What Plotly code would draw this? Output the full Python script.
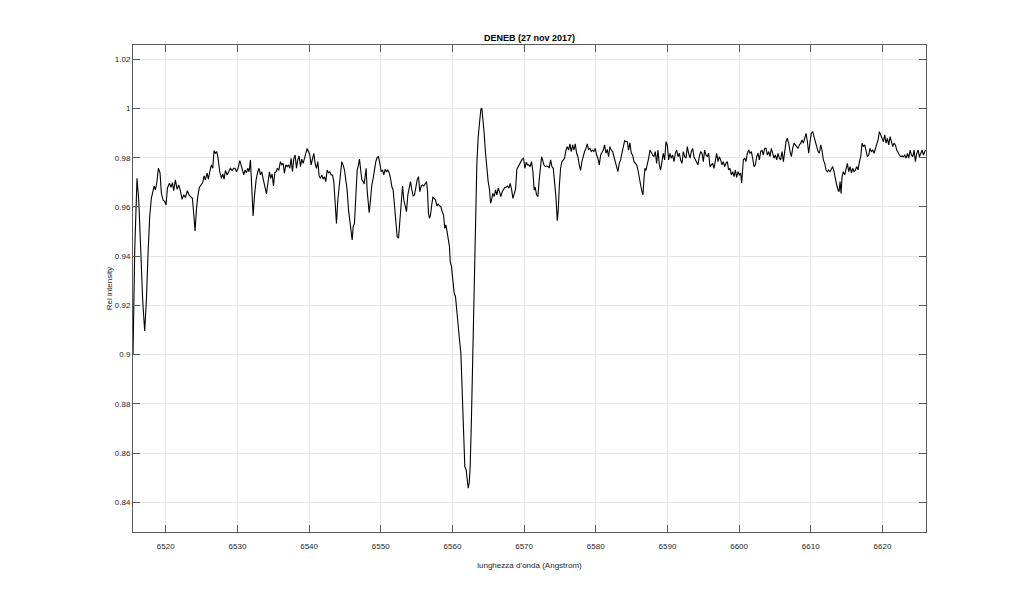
import plotly.graph_objects as go

wavelength = [
6515.43,6515.67,6515.99,6516.23,6516.51,6516.78,6517.06,6517.30,6517.53,6517.76,6517.99,6518.23,6518.37,6518.55,6518.74,6518.97,6519.20,6519.39,6519.62,6519.85,
6520.04,6520.23,6520.51,6520.74,6520.93,6521.11,6521.34,6521.58,6521.81,6522.04,6522.28,6522.51,6522.74,6523.02,6523.25,6523.48,6523.72,6523.90,6524.09,6524.28,
6524.46,6524.70,6524.93,6525.16,6525.35,6525.53,6525.77,6525.95,6526.18,6526.37,6526.56,6526.74,6526.93,6527.11,6527.30,6527.53,6527.77,6527.95,6528.14,6528.33,
6528.56,6528.79,6529.02,6529.25,6529.49,
6529.67,6529.86,6530.09,6530.33,6530.51,6530.70,6530.88,6531.07,6531.26,6531.44,6531.63,6531.82,6532.00,6532.19,6532.37,6532.61,6532.84,6533.02,6533.21,6533.40,
6533.58,6533.82,6534.05,6534.28,6534.47,6534.65,6534.84,6535.03,6535.21,6535.40,6535.58,6535.77,6536.00,6536.19,6536.38,6536.56,6536.75,6536.93,6537.12,6537.31,
6537.49,6537.68,6537.86,6538.05,6538.24,6538.42,6538.61,6538.80,6538.98,6539.17,6539.35,6539.54,6539.73,6539.91,6540.10,6540.28,6540.47,6540.66,6540.84,6541.03,
6541.22,6541.40,6541.59,6541.77,6541.96,6542.15,6542.33,6542.52,6542.70,6542.89,6543.08,6543.26,6543.45,6543.63,6543.82,6544.01,
6544.19,6544.38,6544.56,6544.75,6544.94,6545.12,6545.31,6545.50,6545.68,6545.87,6546.01,6546.15,6546.33,6546.52,6546.71,6546.89,6547.03,6547.17,6547.36,6547.54,
6547.68,6547.82,6547.96,6548.10,6548.24,6548.38,6548.57,6548.75,6548.94,6549.13,6549.31,6549.50,6549.68,6549.87,6550.06,6550.24,6550.43,6550.61,6550.80,6550.99,
6551.17,6551.36,6551.55,6551.73,6551.92,6552.10,6552.29,6552.48,6552.66,6552.85,6553.04,6553.22,6553.41,6553.59,6553.78,6553.97,6554.15,6554.34,6554.52,6554.71,
6554.90,6555.08,6555.27,6555.45,6555.64,6555.83,6556.01,6556.20,6556.39,6556.53,6556.66,6556.80,6556.94,
6557.08,6557.27,6557.45,6557.64,6557.83,6558.01,6558.20,6558.38,6558.57,6558.76,6558.94,6559.08,6559.22,6559.41,6559.59,6559.69,6559.87,6560.06,6560.25,6560.43,
6560.62,6560.80,6560.99,6561.18,6561.36,6561.55,6561.73,6561.92,6562.06,6562.20,6562.34,6562.48,6562.66,6562.85,6563.04,6563.22,6563.41,6563.60,6563.78,6563.97,
6564.11,6564.25,6564.43,6564.62,6564.81,6564.99,6565.18,6565.32,6565.46,6565.64,6565.83,6566.02,6566.20,6566.39,6566.57,6566.76,6566.95,6567.13,6567.32,6567.50,
6567.69,6567.88,6568.06,6568.25,6568.44,6568.62,6568.81,6568.99,6569.18,6569.37,6569.55,6569.74,6569.92,6570.11,6570.30,6570.48,6570.67,6570.85,6571.04,6571.23,
6571.41,
6571.55,6571.74,6571.93,6572.11,6572.30,6572.44,6572.58,6572.76,6572.95,6573.14,6573.32,6573.51,6573.70,6573.88,6574.07,6574.25,6574.44,6574.63,6574.77,6574.91,
6575.09,6575.28,6575.46,6575.65,6575.84,6576.02,6576.21,6576.39,6576.58,6576.77,6576.95,6577.14,6577.33,6577.51,6577.70,6577.88,6578.07,6578.26,6578.44,6578.63,
6578.81,6579.00,6579.19,6579.37,6579.56,6579.74,6579.93,6580.12,6580.30,6580.49,6580.68,6580.86,6581.05,6581.23,6581.42,6581.61,6581.79,6581.98,6582.16,6582.35,
6582.54,6582.72,6582.91,6583.09,6583.28,6583.47,6583.65,6583.84,6584.03,6584.21,6584.40,6584.58,6584.77,6584.96,6585.14,6585.33,6585.51,6585.70,6585.89,6586.07,
6586.26,6586.45,6586.58,6586.72,6586.86,6587.00,6587.19,6587.38,6587.56,6587.75,6587.93,6588.12,6588.31,6588.49,6588.68,6588.87,6589.05,6589.24,6589.42,6589.61,
6589.80,6589.98,6590.17,6590.35,6590.54,6590.73,6590.91,6591.10,6591.29,6591.47,6591.66,6591.84,6592.03,6592.22,6592.40,6592.59,6592.77,6592.96,6593.15,6593.33,
6593.52,6593.70,6593.89,6594.08,6594.26,6594.45,6594.64,6594.82,6595.01,6595.19,6595.38,6595.57,6595.75,6595.94,6596.12,6596.31,6596.50,6596.68,6596.87,6597.06,
6597.24,6597.43,6597.61,6597.80,6597.99,6598.17,6598.36,6598.54,6598.73,6598.92,6599.10,6599.29,6599.48,6599.66,6599.85,
6600.03,6600.22,6600.36,6600.50,6600.59,6600.78,6600.96,6601.15,6601.34,6601.52,6601.71,6601.89,6602.08,6602.27,6602.45,6602.64,6602.83,6603.01,6603.20,6603.38,
6603.57,6603.76,6603.94,6604.13,6604.31,6604.50,6604.69,6604.87,6605.06,6605.25,6605.43,6605.62,6605.80,6605.99,6606.18,6606.36,6606.55,6606.73,6606.92,6607.11,
6607.29,6607.48,6607.66,6607.85,6608.04,6608.22,6608.41,6608.60,6608.78,6608.97,6609.15,6609.34,6609.53,6609.71,6609.90,6610.08,6610.27,6610.46,6610.64,6610.83,
6611.02,6611.20,6611.39,6611.57,6611.76,6611.95,6612.13,6612.32,6612.50,6612.69,6612.88,6613.06,6613.25,6613.44,6613.62,6613.81,
6613.95,6614.09,6614.23,6614.37,6614.55,6614.74,6614.92,6615.11,6615.30,6615.48,6615.67,6615.85,6616.04,6616.23,6616.41,6616.60,6616.79,6616.97,6617.16,6617.34,
6617.53,6617.72,6617.90,6618.09,6618.27,6618.46,6618.65,6618.83,6619.02,6619.21,6619.39,6619.58,6619.76,6619.95,6620.14,6620.32,6620.51,6620.69,6620.88,6621.07,
6621.25,6621.44,6621.62,6621.81,6622.00,6622.18,6622.37,6622.56,6622.74,6622.93,6623.11,6623.30,6623.49,6623.67,6623.86,6624.04,6624.23,6624.42,6624.60,6624.79,
6624.98,6625.16,6625.35,6625.53,6625.72,6625.90,6626.00,
]

intensity = [
0.8998,0.9425,0.9716,0.9628,0.9425,0.9222,0.9096,0.9222,0.9412,0.9561,0.9635,0.9676,0.9685,0.9669,0.9696,0.9757,0.9739,0.9655,0.9628,0.9622,
0.9608,0.9676,0.9696,0.9680,0.9699,0.9666,0.9710,0.9672,0.9689,0.9666,0.9631,0.9649,0.9638,0.9666,0.9649,0.9642,0.9635,0.9574,0.9502,0.9588,
0.9642,0.9680,0.9689,0.9699,0.9726,0.9710,0.9737,0.9713,0.9748,0.9771,0.9757,0.9829,0.9818,0.9825,0.9798,0.9743,0.9716,0.9734,0.9713,0.9748,
0.9730,0.9743,0.9757,0.9748,0.9757,
0.9757,0.9743,0.9757,0.9788,0.9771,0.9750,0.9730,0.9750,0.9739,0.9757,0.9743,0.9791,0.9696,0.9563,0.9642,0.9710,0.9743,0.9757,0.9730,0.9743,
0.9716,0.9676,0.9653,0.9703,0.9743,0.9716,0.9734,0.9685,0.9739,0.9743,0.9757,0.9748,0.9784,0.9771,0.9777,0.9737,0.9771,0.9764,0.9771,0.9757,
0.9798,0.9743,0.9794,0.9811,0.9757,0.9791,0.9807,0.9764,0.9794,0.9777,0.9798,0.9811,0.9838,0.9825,0.9811,0.9771,0.9798,0.9818,0.9777,0.9757,
0.9784,0.9726,0.9716,0.9730,0.9713,0.9723,0.9703,0.9750,0.9739,0.9743,0.9730,0.9730,0.9703,0.9628,0.9533,0.9628,
0.9683,0.9710,0.9784,0.9771,0.9750,0.9710,0.9669,0.9588,0.9547,0.9513,0.9466,0.9520,0.9533,0.9642,0.9750,0.9771,0.9794,0.9757,0.9710,0.9703,
0.9693,0.9723,0.9757,0.9669,0.9601,0.9577,0.9628,0.9689,0.9716,0.9757,0.9784,0.9801,0.9804,0.9777,0.9743,0.9750,0.9730,0.9753,0.9743,0.9750,
0.9739,0.9716,0.9682,0.9669,0.9601,0.9520,0.9479,0.9473,0.9554,0.9642,0.9685,0.9628,0.9601,0.9581,0.9649,0.9676,0.9703,0.9669,0.9645,0.9649,
0.9689,0.9710,0.9723,0.9662,0.9685,0.9689,0.9685,0.9696,0.9703,0.9662,0.9574,0.9554,0.9567,
0.9601,0.9639,0.9635,0.9628,0.9604,0.9612,0.9604,0.9601,0.9581,0.9567,0.9513,0.9527,0.9506,0.9479,0.9439,0.9378,0.9357,0.9303,0.9249,0.9235,
0.9168,0.9101,0.9059,0.9005,0.8843,0.8694,0.8545,0.8531,0.8491,0.8457,0.8477,0.8545,0.8748,0.9019,0.9290,0.9561,0.9777,0.9886,0.9953,0.9997,
1.0001,0.9967,0.9899,0.9818,0.9750,0.9703,0.9669,0.9615,0.9628,0.9655,0.9642,0.9669,0.9649,0.9676,0.9662,0.9642,0.9662,0.9672,0.9680,0.9680,
0.9685,0.9676,0.9696,0.9672,0.9635,0.9653,0.9672,0.9753,0.9764,0.9771,0.9784,0.9794,0.9798,0.9757,0.9781,0.9771,0.9771,0.9764,0.9784,0.9743,
0.9669,
0.9680,0.9649,0.9642,0.9710,0.9771,0.9804,0.9791,0.9771,0.9764,0.9766,0.9764,0.9760,0.9791,0.9764,0.9757,0.9710,0.9642,0.9544,0.9588,0.9682,
0.9757,0.9784,0.9791,0.9798,0.9831,0.9845,0.9831,0.9856,0.9825,0.9852,0.9831,0.9856,0.9818,0.9804,0.9771,0.9748,0.9784,0.9811,0.9825,0.9838,
0.9856,0.9834,0.9838,0.9825,0.9831,0.9825,0.9838,0.9811,0.9798,0.9771,0.9811,0.9821,0.9831,0.9852,0.9818,0.9834,0.9804,0.9845,0.9831,0.9825,
0.9804,0.9784,0.9764,0.9743,0.9777,0.9791,0.9818,0.9845,0.9869,0.9865,0.9865,0.9831,0.9861,0.9818,0.9811,0.9784,0.9777,0.9771,0.9750,0.9710,
0.9689,0.9662,0.9649,0.9710,0.9757,0.9748,0.9771,0.9798,0.9831,0.9818,0.9811,0.9804,0.9825,0.9777,0.9831,0.9771,0.9750,0.9784,0.9818,0.9791,
0.9865,0.9852,0.9791,0.9818,0.9798,0.9811,0.9784,0.9818,0.9831,0.9804,0.9818,0.9791,0.9777,0.9825,0.9804,0.9798,0.9845,0.9818,0.9798,0.9825,
0.9838,0.9804,0.9791,0.9777,0.9771,0.9804,0.9825,0.9818,0.9784,0.9831,0.9811,0.9804,0.9818,0.9764,0.9771,0.9777,0.9757,0.9798,0.9818,0.9784,
0.9804,0.9791,0.9771,0.9784,0.9764,0.9777,0.9784,0.9750,0.9757,0.9730,0.9743,0.9723,0.9750,0.9720,0.9743,
0.9730,0.9737,0.9696,0.9743,0.9791,0.9798,0.9784,0.9818,0.9831,0.9818,0.9825,0.9798,0.9764,0.9771,0.9804,0.9818,0.9791,0.9825,0.9831,0.9811,
0.9838,0.9838,0.9811,0.9825,0.9804,0.9838,0.9811,0.9798,0.9811,0.9791,0.9818,0.9798,0.9791,0.9825,0.9784,0.9831,0.9865,0.9879,0.9859,0.9825,
0.9804,0.9838,0.9859,0.9852,0.9845,0.9838,0.9852,0.9859,0.9872,0.9859,0.9879,0.9899,0.9865,0.9818,0.9865,0.9899,0.9906,0.9879,0.9865,0.9845,
0.9825,0.9818,0.9852,0.9831,0.9791,0.9777,0.9750,0.9743,0.9750,0.9743,0.9757,0.9764,0.9743,0.9710,0.9689,0.9669,
0.9662,0.9703,0.9655,0.9723,0.9743,0.9730,0.9757,0.9777,0.9743,0.9764,0.9737,0.9757,0.9743,0.9750,0.9764,0.9750,0.9784,0.9804,0.9859,0.9845,
0.9852,0.9825,0.9804,0.9811,0.9838,0.9825,0.9831,0.9818,0.9838,0.9852,0.9872,0.9906,0.9893,0.9886,0.9865,0.9893,0.9859,0.9879,0.9852,0.9886,
0.9859,0.9845,0.9859,0.9852,0.9831,0.9818,0.9811,0.9804,0.9807,0.9804,0.9811,0.9798,0.9818,0.9798,0.9831,0.9811,0.9804,0.9831,0.9784,0.9818,
0.9831,0.9804,0.9818,0.9831,0.9811,0.9825,0.9831,
]

x_ticks = [6520, 6530, 6540, 6550, 6560, 6570, 6580, 6590, 6600, 6610, 6620]
y_ticks = [0.84, 0.86, 0.88, 0.90, 0.92, 0.94, 0.96, 0.98, 1.00, 1.02]
y_tick_labels = ["0.84", "0.86", "0.88", "0.9", "0.92", "0.94", "0.96", "0.98", "1", "1.02"]

title_text = "DENEB (27 nov 2017)"
x_title = "lunghezza d’onda (Angstrom)"
y_title = "Rel intensity"

fig = go.Figure()
fig.add_trace(go.Scatter(x=wavelength, y=intensity, mode="lines",
                         line=dict(color="black", width=1.1), showlegend=False))

font_family = "Liberation Sans, Arial, Helvetica, sans-serif"
axis_color = "#262626"

# page body has an 8px margin: figure is 1008x583 placed at (8, 8)
W, H = 1008, 583
fig.update_layout(
    width=W, height=H,
    margin=dict(l=125, r=90, t=37, b=59),
    paper_bgcolor="white", plot_bgcolor="white",
    font=dict(family=font_family, size=8, color=axis_color),
    title=dict(text="<b>" + title_text + "</b>", x=(125 + (W - 90)) / 2 / W, xanchor="center",
               y=1 - 30 / H, yanchor="middle", yref="container",
               font=dict(size=9, color="black")),
)

fig.update_xaxes(
    range=[6515.43, 6626.08], tickvals=x_ticks, ticktext=[str(v) for v in x_ticks],
    showgrid=True, gridcolor="#e6e6e6", gridwidth=1, zeroline=False,
    showline=True, linecolor="#5a5a5a", linewidth=1, mirror="ticks",
    ticks="inside", ticklen=7, tickcolor="#5a5a5a",
    tickfont=dict(size=8, color=axis_color), ticklabelstandoff=6,
    title=dict(text=x_title, font=dict(size=8, color=axis_color), standoff=12),
)
fig.update_yaxes(
    range=[0.8279, 1.0258], tickvals=y_ticks, ticktext=y_tick_labels,
    showgrid=True, gridcolor="#e6e6e6", gridwidth=1, zeroline=False,
    showline=True, linecolor="#5a5a5a", linewidth=1, mirror="ticks",
    ticks="inside", ticklen=7, tickcolor="#5a5a5a",
    tickfont=dict(size=8, color=axis_color),
    title=dict(text=y_title, font=dict(size=8, color=axis_color), standoff=1),
)

fig.write_html("out.html")
